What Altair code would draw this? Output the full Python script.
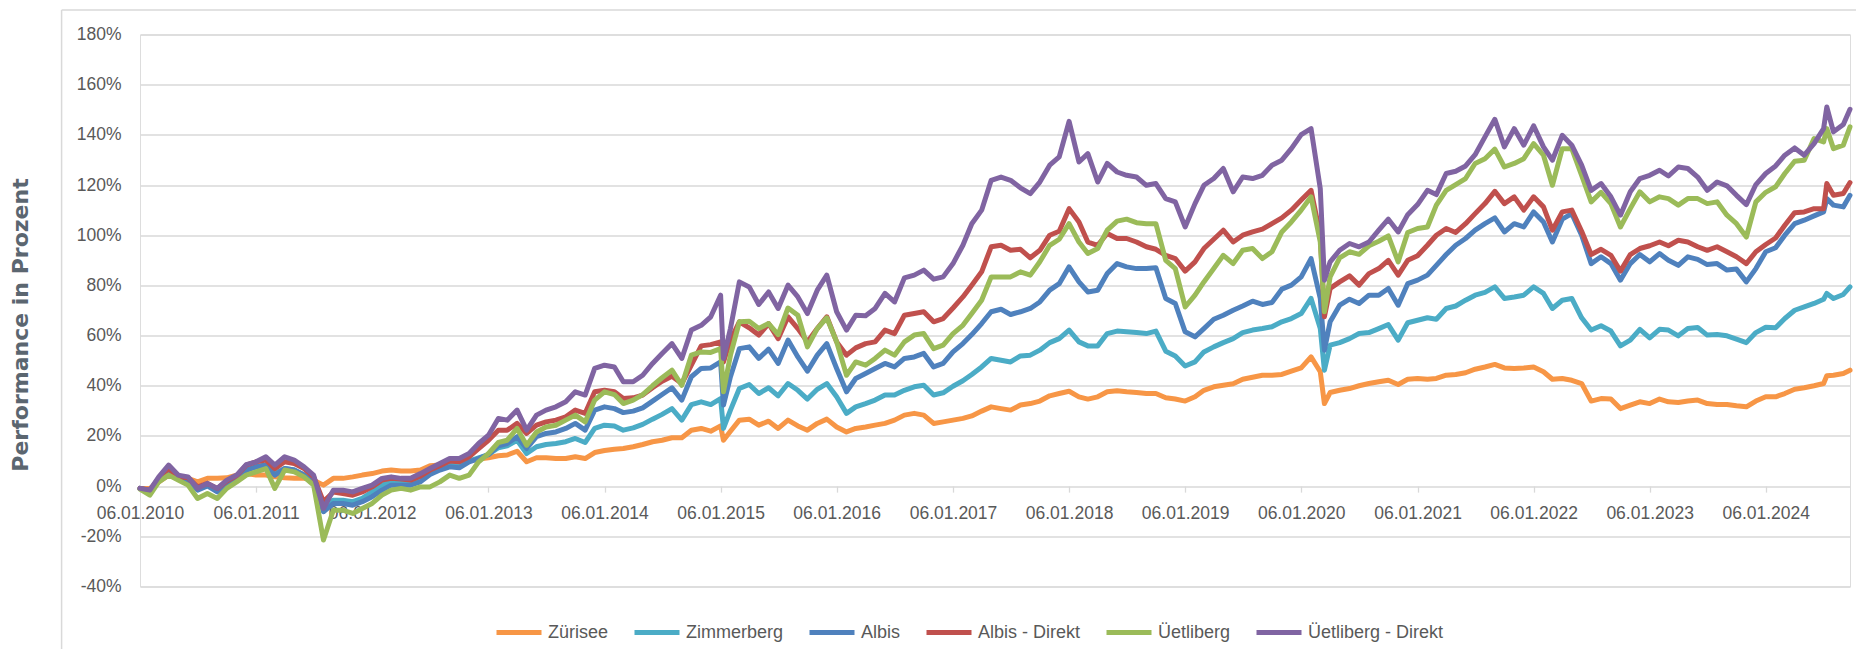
import altair as alt
import pandas as pd

series_names = ["Zürisee", "Zimmerberg", "Albis", "Albis - Direkt", "Üetliberg", "Üetliberg - Direkt"]
series_colors = ["#f79646", "#4bacc6", "#4f81bd", "#c0504d", "#9bbb59", "#8064a2"]

# observation dates: the 6th of each month, Jan 2010 .. Sep 2024
month_dates = [f"{2010 + k // 12}-{k % 12 + 1:02d}-06" for k in range(177)]
# extra observations at sharp moves and the last day shown
extra_dates = ["2015-01-15", "2020-03-19", "2024-07-16", "2024-09-27"]

zuerisee = [
    -0.9, -0.9, 1.7, 4.4, 3.1, 3.1, 1.7, 3.1, 3.1, 3.3, 4.4, 5.0,
    4.4, 4.4, 3.7, 3.3, 3.1, 3.1, 2.4, 0.4, 3.1, 3.1, 3.7, 4.4,
    5.0, 6.0, 6.4, 6.0, 6.0, 6.4, 8.1, 8.4, 9.0, 9.4, 10.0, 10.8,
    11.3, 12.1, 12.4, 13.9, 9.7, 11.3, 11.3, 11.0, 11.0, 11.7, 11.0, 13.4,
    14.2, 14.7, 15.0, 15.7, 16.6, 17.7, 18.3, 19.3, 19.3, 22.3, 23.0, 21.9,
    24.0, 21.9, 26.3, 26.7, 24.3, 25.9, 23.0, 26.3, 24.0, 22.3, 25.0, 26.7,
    23.6, 21.6, 23.0, 23.6, 24.3, 25.0, 26.3, 28.3, 29.0, 28.3, 25.0, 25.6,
    26.3, 27.0, 28.0, 29.9, 31.6, 30.9, 30.3, 32.3, 32.9, 33.9, 36.0, 36.9,
    37.8, 35.6, 34.7, 35.6, 37.6, 38.0, 37.6, 37.3, 36.9, 36.9, 35.2, 34.7,
    33.9, 35.6, 38.2, 39.6, 40.2, 40.8, 42.6, 43.4, 44.2, 44.2, 44.5, 45.8,
    47.1, 51.5, 45.6, 37.3, 38.2, 38.9, 40.0, 40.9, 41.6, 42.2, 40.5, 42.6,
    42.9, 42.6, 42.9, 44.2, 44.5, 45.2, 46.6, 47.5, 48.5, 47.1, 46.9, 47.1,
    47.5, 45.6, 42.6, 42.9, 42.2, 40.9, 33.9, 34.9, 34.7, 30.9, 32.3, 33.6,
    32.9, 34.7, 33.6, 33.3, 33.9, 34.3, 32.9, 32.5, 32.5, 32.0, 31.6, 33.9,
    35.6, 35.6, 36.9, 38.6, 39.2, 40.0, 40.9, 44.2, 44.9,
]
zuerisee_extra = [18.3, 32.9, 44.0, 46.2]

zimmerberg = [
    -0.9, -1.7, 2.8, 6.4, 3.3, 2.8, -0.9, 0.7, -1.6, 1.5, 3.6, 6.4,
    7.7, 8.4, 5.0, 7.0, 6.4, 4.4, 1.7, -7.6, -5.6, -5.6, -6.2, -4.9,
    -2.3, 0.4, 1.7, 1.7, 1.5, 3.1, 5.0, 6.8, 8.4, 8.1, 10.0, 11.3,
    12.6, 15.3, 16.1, 18.3, 13.0, 15.7, 16.6, 17.0, 17.7, 19.0, 17.4, 23.0,
    24.3, 24.0, 22.3, 23.2, 24.6, 26.7, 28.6, 30.9, 26.3, 32.5, 33.6, 32.5,
    34.9, 30.3, 38.9, 40.5, 36.9, 39.2, 36.0, 40.9, 38.2, 34.7, 38.6, 40.9,
    35.6, 29.0, 31.6, 32.9, 34.3, 36.3, 36.3, 38.2, 39.6, 40.2, 36.3, 37.2,
    39.8, 42.0, 44.5, 47.5, 50.9, 50.2, 49.5, 51.9, 52.2, 54.2, 57.2, 58.8,
    62.2, 57.5, 55.9, 55.9, 60.8, 61.8, 61.5, 61.2, 60.8, 61.8, 53.8, 51.9,
    47.9, 49.5, 53.5, 55.5, 57.2, 58.8, 61.2, 62.2, 62.8, 63.5, 65.5, 66.8,
    68.8, 74.8, 62.8, 56.2, 57.2, 58.8, 60.8, 61.2, 62.8, 64.4, 58.2, 65.1,
    66.1, 67.1, 66.5, 70.8, 71.8, 74.1, 76.1, 77.2, 79.4, 74.8, 75.4, 76.1,
    79.4, 76.8, 70.8, 74.1, 74.8, 67.1, 62.2, 63.9, 61.8, 55.9, 58.2, 62.5,
    59.1, 62.5, 62.2, 59.9, 62.8, 63.2, 60.2, 60.4, 59.9, 58.6, 57.2, 61.2,
    63.3, 63.1, 66.8, 70.1, 71.4, 72.8, 74.5, 74.8, 76.4,
]
zimmerberg_extra = [23.0, 46.2, 76.8, 79.4]

albis = [
    -0.9, -2.0, 2.4, 5.7, 3.1, 2.4, -1.6, 0.1, -2.3, 1.1, 3.1, 6.4,
    7.7, 8.4, 4.4, 7.0, 6.4, 4.4, 1.7, -10.2, -6.9, -6.9, -7.6, -6.2,
    -4.2, -1.6, 0.4, 0.4, 0.4, 1.7, 4.6, 6.4, 7.7, 7.3, 9.7, 11.0,
    12.6, 16.1, 17.0, 19.7, 15.0, 19.7, 21.0, 21.6, 23.0, 25.0, 22.3, 30.3,
    31.6, 30.9, 29.3, 29.9, 31.2, 33.9, 36.5, 39.2, 34.3, 43.6, 46.9, 47.1,
    49.5, 43.6, 54.8, 55.5, 50.9, 54.6, 48.9, 58.2, 51.5, 45.8, 52.2, 56.8,
    46.9, 37.6, 42.9, 44.9, 46.9, 48.9, 47.5, 50.9, 51.5, 52.9, 47.5, 48.9,
    53.5, 56.8, 60.4, 64.8, 69.5, 70.5, 68.4, 69.5, 70.8, 73.4, 78.1, 80.7,
    87.4, 81.4, 77.4, 78.1, 84.7, 88.7, 87.4, 86.7, 86.7, 87.0, 74.8, 72.8,
    61.5, 59.5, 62.8, 66.5, 68.1, 70.1, 71.8, 73.7, 72.4, 73.2, 78.5, 80.1,
    83.4, 90.7, 74.8, 65.5, 72.1, 74.5, 72.8, 76.1, 76.1, 78.8, 72.1, 80.7,
    82.1, 84.1, 88.0, 92.3, 96.0, 98.7, 102.0, 104.6, 106.9, 101.3, 104.6, 103.3,
    109.3, 105.3, 97.3, 106.4, 108.6, 100.0, 88.7, 91.4, 88.7, 82.1, 88.7, 92.3,
    89.4, 92.7, 90.0, 88.0, 91.4, 90.4, 88.3, 88.7, 86.1, 86.5, 81.4, 86.7,
    93.4, 95.0, 100.0, 104.6, 106.0, 107.7, 109.3, 112.0, 111.3,
]
albis_extra = [32.3, 54.2, 114.6, 115.9]

albis_direkt = [
    -0.9, -1.6, 3.1, 7.0, 3.7, 3.3, -0.3, 1.1, -0.9, 2.0, 4.1, 8.4,
    9.7, 10.4, 7.0, 9.7, 9.0, 7.0, 3.7, -6.2, -2.3, -2.9, -3.6, -2.3,
    -0.3, 2.4, 3.1, 2.8, 2.4, 4.0, 6.4, 8.1, 10.0, 9.7, 11.7, 15.0,
    18.3, 22.3, 22.3, 25.0, 21.0, 24.3, 25.6, 26.3, 27.6, 30.3, 29.0, 37.6,
    38.2, 37.6, 34.9, 35.2, 36.3, 39.2, 41.8, 43.8, 40.9, 48.2, 55.9, 56.4,
    57.5, 58.2, 65.5, 63.1, 60.2, 64.8, 58.8, 67.5, 62.8, 57.5, 62.8, 67.5,
    57.5, 52.2, 55.1, 56.8, 57.5, 62.2, 60.8, 68.1, 68.8, 69.5, 65.5, 66.8,
    71.0, 75.4, 80.1, 85.4, 95.4, 96.0, 94.0, 94.4, 91.0, 94.0, 100.0, 101.6,
    110.6, 105.3, 97.3, 96.0, 100.7, 98.7, 98.7, 97.3, 95.4, 94.4, 92.0, 90.7,
    85.7, 89.4, 94.7, 98.4, 102.0, 97.3, 100.0, 101.3, 102.4, 104.6, 106.9, 110.0,
    114.0, 117.9, 100.0, 78.8, 81.4, 83.8, 80.1, 84.7, 86.7, 90.0, 84.1, 90.0,
    91.8, 96.0, 100.0, 102.7, 101.1, 104.6, 108.6, 112.6, 117.5, 112.6, 115.3, 110.0,
    115.3, 111.3, 102.0, 109.3, 110.0, 101.6, 92.3, 94.4, 92.0, 85.7, 92.3, 94.7,
    95.8, 97.3, 95.8, 98.0, 97.3, 95.4, 94.0, 95.4, 93.4, 91.4, 88.7, 93.4,
    96.3, 98.9, 104.0, 109.0, 109.3, 110.6, 110.6, 115.9, 116.6,
]
albis_direkt_extra = [49.5, 67.5, 120.6, 121.0]

uetliberg = [
    -1.2, -3.6, 1.7, 4.4, 2.4, 0.4, -4.9, -2.9, -4.9, -0.9, 1.7, 4.4,
    5.7, 7.0, -0.9, 6.4, 5.7, 3.7, 0.4, -21.5, -9.6, -9.6, -10.9, -8.9,
    -6.9, -3.6, -1.6, -0.9, -1.6, -0.3, -0.3, 1.7, 4.4, 3.1, 4.4, 9.7,
    13.0, 17.4, 18.3, 23.0, 16.3, 21.6, 23.6, 24.3, 26.3, 28.3, 25.6, 34.3,
    37.6, 36.5, 32.9, 34.3, 36.5, 40.0, 43.2, 46.2, 40.2, 52.2, 53.5, 53.3,
    54.8, 52.2, 65.5, 65.7, 62.8, 64.8, 60.4, 71.0, 68.1, 55.5, 62.8, 67.1,
    57.5, 44.2, 49.5, 48.2, 50.9, 54.2, 52.2, 57.5, 60.2, 60.8, 54.8, 56.2,
    60.8, 64.1, 68.8, 74.1, 83.4, 83.4, 83.4, 85.4, 84.1, 89.4, 96.0, 98.4,
    104.6, 97.3, 92.7, 94.7, 102.0, 105.6, 106.4, 105.0, 104.6, 104.6, 90.0, 86.7,
    71.4, 76.1, 81.4, 86.7, 92.0, 88.7, 94.0, 94.7, 90.7, 93.4, 101.3, 105.3,
    110.0, 115.3, 97.3, 83.4, 91.0, 93.4, 92.4, 95.8, 97.6, 99.7, 89.4, 101.1,
    102.7, 103.3, 112.0, 117.9, 120.2, 122.6, 128.6, 130.5, 134.3, 127.2, 128.6, 130.5,
    136.5, 131.9, 119.9, 134.5, 134.5, 123.9, 113.3, 117.1, 112.6, 103.3, 110.6, 117.3,
    113.3, 115.3, 114.6, 112.0, 114.6, 114.6, 112.6, 113.3, 108.0, 104.6, 99.3, 113.3,
    117.1, 119.3, 124.6, 129.5, 129.9, 138.5, 137.2, 134.5, 135.9,
]
uetliberg_extra = [37.6, 69.5, 142.5, 143.2]

uetliberg_direkt = [
    -0.9, -1.6, 3.7, 8.4, 4.4, 3.7, -0.9, 1.1, -0.9, 2.4, 4.4, 8.6,
    9.7, 11.7, 8.4, 11.7, 10.4, 7.7, 4.4, -8.9, -1.6, -1.6, -2.3, -0.9,
    0.4, 3.1, 3.7, 3.1, 3.1, 5.0, 7.0, 9.0, 11.0, 11.0, 13.0, 17.0,
    20.3, 27.0, 26.3, 30.3, 22.3, 28.3, 30.3, 31.6, 33.6, 37.6, 36.3, 46.9,
    48.2, 47.5, 41.6, 41.6, 44.2, 48.9, 52.9, 56.8, 50.9, 62.2, 64.1, 67.5,
    76.1, 62.8, 81.4, 79.4, 72.4, 77.4, 70.8, 80.1, 75.4, 68.8, 78.1, 84.1,
    69.5, 62.2, 68.1, 67.9, 70.8, 76.8, 73.4, 83.0, 84.1, 86.1, 82.5, 83.4,
    88.7, 96.0, 104.6, 110.0, 121.9, 123.2, 121.9, 118.9, 116.6, 121.2, 127.9, 131.2,
    145.4, 129.2, 132.5, 121.2, 128.6, 125.2, 123.9, 123.2, 119.9, 120.6, 114.6, 113.3,
    103.3, 112.6, 119.9, 122.6, 126.6, 117.3, 123.2, 122.6, 123.9, 127.9, 129.9, 134.5,
    140.1, 142.5, 118.6, 89.4, 94.0, 96.7, 95.4, 97.3, 102.0, 106.4, 101.3, 108.2,
    112.2, 117.9, 116.2, 124.6, 125.5, 127.6, 132.1, 139.2, 146.2, 135.2, 142.5, 135.9,
    143.6, 135.2, 129.9, 139.8, 135.9, 127.9, 117.9, 120.6, 115.3, 108.0, 117.3, 122.6,
    123.9, 125.9, 123.6, 127.2, 126.6, 123.2, 117.9, 121.2, 119.7, 115.9, 112.2, 120.2,
    124.6, 127.6, 131.9, 134.8, 131.9, 136.5, 142.5, 141.2, 144.1,
]
uetliberg_direkt_extra = [50.9, 82.1, 151.1, 150.2]

y_ticks = [-40, -20, 0, 20, 40, 60, 80, 100, 120, 140, 160, 180]
x_tick_years = list(range(2010, 2025))

series_values = {
    "Zürisee": (zuerisee, zuerisee_extra),
    "Zimmerberg": (zimmerberg, zimmerberg_extra),
    "Albis": (albis, albis_extra),
    "Albis - Direkt": (albis_direkt, albis_direkt_extra),
    "Üetliberg": (uetliberg, uetliberg_extra),
    "Üetliberg - Direkt": (uetliberg_direkt, uetliberg_direkt_extra),
}

rows = []
for name in series_names:
    vals, extra = series_values[name]
    for d, v in zip(month_dates + extra_dates, vals + extra):
        rows.append({"series": name, "date": d, "value": v})
df = pd.DataFrame(rows)
df["order"] = df["series"].map({n: i for i, n in enumerate(series_names)})
df = df.sort_values(["order", "date"]).reset_index(drop=True)

FONT = "Liberation Sans"
TEXT = "#595959"
GRID = "#d9d9d9"

W, H = 1710, 552
y_min, y_max = -40, 180
zero_offset = -(0 - y_min) / (y_max - y_min) * H

x_enc = alt.X(
    "date:T",
    title=None,
    scale=alt.Scale(
        type="utc",
        domain=[alt.DateTime(year=2010, month=1, date=6, utc=True),
                alt.DateTime(year=2024, month=9, date=27, utc=True)],
        nice=False,
    ),
    axis=alt.Axis(
        values=[alt.DateTime(year=y, month=1, date=6, utc=True) for y in x_tick_years],
        labelExpr="utcFormat(datum.value, '%d.%m.%Y')",
        labelFont=FONT,
        labelFontSize=17.5,
        labelColor=TEXT,
        labelAngle=0,
        labelPadding=12,
        labelFlush=False,
        labelOverlap=False,
        tickColor=GRID,
        tickSize=6,
        tickWidth=1.3,
        domain=False,
        grid=False,
        offset=zero_offset,
    ),
)

y_enc = alt.Y(
    "value:Q",
    scale=alt.Scale(domain=[y_min, y_max], nice=False, zero=False),
    axis=alt.Axis(
        values=y_ticks,
        labelExpr="datum.value + '%'",
        labelFont=FONT,
        labelFontSize=17.5,
        labelColor=TEXT,
        labelPadding=19,
        ticks=False,
        domain=False,
        grid=True,
        gridColor=GRID,
        gridWidth=1.3,
        title="Performance in Prozent",
        titleFont="DejaVu Sans",
        titleFontWeight="bold",
        titleFontSize=22,
        titleColor="#5b6670",
        titleAngle=270,
        titleAlign="center",
        titleBaseline="middle",
        titleX=-120,
        titleY=290,
    ),
)

color_enc = alt.Color(
    "series:N",
    scale=alt.Scale(domain=series_names, range=series_colors),
    legend=alt.Legend(
        title=None,
        orient="none",
        legendX=354,
        legendY=573,
        direction="horizontal",
        columns=6,
        symbolType="stroke",
        symbolSize=2025,
        symbolStrokeWidth=5,
        labelFont=FONT,
        labelFontSize=18,
        labelColor=TEXT,
        labelOffset=4,
        columnPadding=15,
    ),
)

base = alt.Chart(df)
layers = []
for name in series_names:
    layers.append(
        base.transform_filter(alt.datum.series == name)
        .mark_line(strokeWidth=5, strokeJoin="round", strokeCap="round", clip=False)
        .encode(x=x_enc, y=y_enc, color=color_enc)
    )

frame_df = pd.DataFrame({"a": [0]})
frame_left = alt.Chart(frame_df).mark_rule(color=GRID, strokeWidth=1.5).encode(
    x=alt.value(-78.4), y=alt.value(-24.5), y2=alt.value(H + 80)
)
frame_top = alt.Chart(frame_df).mark_rule(color=GRID, strokeWidth=1.5).encode(
    x=alt.value(-78.4), x2=alt.value(W + 20), y=alt.value(-24.5)
)

chart = alt.layer(frame_left, frame_top, *layers).properties(
    width=W,
    height=H,
    autosize=alt.AutoSizeParams(type="none"),
    padding={"left": 132, "top": 26.5, "right": 6, "bottom": 62},
).configure_view(stroke=None).configure(background="white")

chart.save("out.html", embed_options={"renderer": "svg", "actions": False})
